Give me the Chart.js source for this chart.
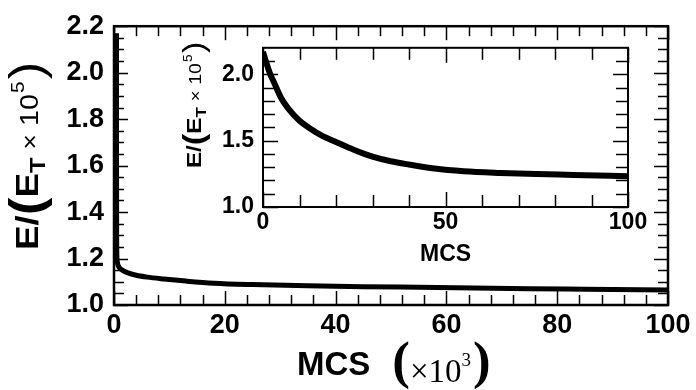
<!DOCTYPE html>
<html><head><meta charset="utf-8">
<script src="https://cdn.jsdelivr.net/npm/chart.js@4"></script>
<style>
html,body{margin:0;padding:0;background:#fff;}
#wrap{position:relative;width:696px;height:390px;overflow:hidden;}
#main{position:absolute;left:0;top:0;}
#inset{position:absolute;left:180px;top:25px;}
</style></head><body>
<div id="wrap"><canvas id="main" width="696" height="390"></canvas><canvas id="inset" width="480" height="245"></canvas></div>
<script>
// ---- data: main panel (MCS in units of 10^3) ----
const mainX = [0.45, 0.46, 0.48, 0.52, 0.6, 0.9, 1.5, 2.5, 4, 6, 9, 13, 18, 25, 35, 45, 55, 65, 75, 85, 100];
const mainY = [2.17, 1.6, 1.3, 1.21, 1.185, 1.163, 1.15, 1.138, 1.128, 1.12, 1.112, 1.103, 1.094, 1.088, 1.083, 1.079, 1.076, 1.073, 1.07, 1.068, 1.065];
// ---- data: inset (MCS) ----
const insetX = [0, 1, 2, 3, 5, 7, 10, 13, 16, 20, 25, 30, 35, 40, 47, 55, 65, 75, 85, 100];
const insetY = [2.17, 2.08, 2.0, 1.94, 1.82, 1.74, 1.65, 1.59, 1.54, 1.49, 1.43, 1.38, 1.345, 1.32, 1.29, 1.27, 1.257, 1.248, 1.242, 1.232];
// ---- tick values ----
const mainXTicks = [0, 20, 40, 60, 80, 100];
const mainXMinor = [4, 8, 12, 16, 24, 28, 32, 36, 44, 48, 52, 56, 64, 68, 72, 76, 84, 88, 92, 96];
const mainYTicks = [1.0, 1.2, 1.4, 1.6, 1.8, 2.0, 2.2];
const mainYMinor = [1.05, 1.1, 1.15, 1.25, 1.3, 1.35, 1.45, 1.5, 1.55, 1.65, 1.7, 1.75, 1.85, 1.9, 1.95, 2.05, 2.1, 2.15];
const insetXTicks = [0, 50, 100];
const insetXMinor = [10, 20, 30, 40, 60, 70, 80, 90];
const insetYTicks = [1.0, 1.5, 2.0];
const insetYMinor = [1.1, 1.2, 1.3, 1.4, 1.6, 1.7, 1.8, 1.9, 2.1];

const SANS = '"Liberation Sans", Arial, sans-serif';
const SERIF = '"Liberation Serif", "Times New Roman", serif';

const frameTicks = {
  id: 'frameTicks',
  afterDatasetsDraw(chart, args, o) {
    const {ctx, chartArea: a, scales: {x, y}} = chart;
    ctx.save();
    ctx.strokeStyle = '#000';
    ctx.lineWidth = o.tickWidth;
    const seg = (x1, y1, x2, y2) => { ctx.beginPath(); ctx.moveTo(x1, y1); ctx.lineTo(x2, y2); ctx.stroke(); };
    const xt = (vals, len) => vals.forEach(v => { const p = Math.round(x.getPixelForValue(v)) + 0.5; seg(p, a.bottom, p, a.bottom - len); seg(p, a.top, p, a.top + len); });
    const yt = (vals, len) => vals.forEach(v => { const p = Math.round(y.getPixelForValue(v)) + 0.5; seg(a.left, p, a.left + len, p); seg(a.right, p, a.right - len, p); });
    xt(o.xMajor, o.majorLen); xt(o.xMinor, o.minorLen);
    yt(o.yMajor, o.majorLen); yt(o.yMinor, o.minorLen);
    ctx.lineWidth = o.frameWidth;
    ctx.strokeRect(a.left, a.top, a.right - a.left, a.bottom - a.top);
    ctx.restore();
  }
};

function drawRich(ctx, segs, x, y, rot, sx) {
  ctx.save();
  ctx.translate(x, y);
  if (rot) ctx.rotate(-Math.PI / 2);
  ctx.scale(sx || 1, 1);
  ctx.textBaseline = 'alphabetic';
  ctx.textAlign = 'left';
  ctx.fillStyle = '#000';
  let cx = 0;
  for (const s of segs) {
    ctx.font = s.font;
    cx += (s.gap || 0);
    ctx.fillText(s.t, cx, s.dy || 0);
    cx += ctx.measureText(s.t).width;
  }
  ctx.restore();
}

const titles = {
  id: 'titles',
  afterDraw(chart, args, o) {
    (o.items || []).forEach(it => drawRich(chart.ctx, it.segs, it.x, it.y, it.rot, it.sx));
  }
};

function setTicks(vals) { return s => { s.ticks = vals.map(v => ({value: v})); }; }

// ---- main chart ----
new Chart(document.getElementById('main'), {
  type: 'line',
  data: { datasets: [{
    data: mainX.map((v, i) => ({x: v, y: mainY[i]})),
    borderColor: '#000', borderWidth: 5, pointRadius: 0, fill: false,
    cubicInterpolationMode: 'monotone', clip: 6
  }]},
  options: {
    responsive: false, animation: false, devicePixelRatio: 1,
    layout: { padding: { left: 0, top: 17, right: 28, bottom: 0 } },
    plugins: {
      legend: { display: false }, tooltip: { enabled: false },
      frameTicks: { xMajor: mainXTicks, xMinor: mainXMinor, yMajor: mainYTicks, yMinor: mainYMinor,
                    majorLen: 14, minorLen: 10, tickWidth: 1.5, frameWidth: 2.5 },
      titles: { items: [
        { x: 38, y: 250, rot: true, sx: 1.15, segs: [
          { t: 'E/', font: 'bold 32px ' + SANS },
          { t: '(', font: 'bold 46px ' + SANS, dy: 4 },
          { t: 'E', font: 'bold 32px ' + SANS },
          { t: 'T', font: 'bold 22px ' + SANS, dy: 7 },
          { t: '×', font: '23px ' + SANS, gap: 7 },
          { t: '10', font: '25px ' + SANS, gap: 7 },
          { t: '5', font: '18px ' + SANS, dy: -14, gap: 1 },
          { t: ')', font: '46px ' + SANS, dy: 4, gap: 2 }
        ]},
        { x: 297, y: 375, rot: false, segs: [
          { t: 'MCS', font: 'bold 33px ' + SANS },
          { t: '(', font: 'bold 53px ' + SERIF, gap: 22, dy: 3 },
          { t: '×10', font: '33px ' + SERIF, dy: 7 },
          { t: '3', font: '19px ' + SERIF, dy: -9 },
          { t: ')', font: 'bold 53px ' + SERIF, gap: 2, dy: 3 }
        ]}
      ]}
    },
    scales: {
      x: {
        type: 'linear', min: 0, max: 100,
        grid: { display: false, drawTicks: false }, border: { display: false },
        afterBuildTicks: setTicks(mainXTicks),
        afterFit: s => { s.height = 85; },
        ticks: { autoSkip: false, maxRotation: 0, color: '#000', padding: 4,
                 font: { family: SANS, size: 27, weight: 'bold' }, callback: v => String(v) }
      },
      y: {
        type: 'linear', min: 1.0, max: 2.2,
        grid: { display: false, drawTicks: false }, border: { display: false },
        afterBuildTicks: setTicks(mainYTicks),
        afterFit: s => { s.width = 114; },
        ticks: { autoSkip: false, color: '#000', padding: 10,
                 font: { family: SANS, size: 27, weight: 'bold' }, callback: v => v.toFixed(1) }
      }
    }
  },
  plugins: [frameTicks, titles]
});

// ---- inset chart ----
new Chart(document.getElementById('inset'), {
  type: 'line',
  data: { datasets: [{
    data: insetX.map((v, i) => ({x: v, y: insetY[i]})),
    borderColor: '#000', borderWidth: 6, pointRadius: 0, fill: false,
    cubicInterpolationMode: 'monotone'
  }]},
  options: {
    responsive: false, animation: false, devicePixelRatio: 1,
    layout: { padding: { left: 0, top: 13, right: 32, bottom: 0 } },
    plugins: {
      legend: { display: false }, tooltip: { enabled: false },
      frameTicks: { xMajor: insetXTicks, xMinor: insetXMinor, yMajor: insetYTicks, yMinor: insetYMinor,
                    majorLen: 15, minorLen: 12, tickWidth: 1.5, frameWidth: 2 },
      titles: { items: [
        { x: 21, y: 143, rot: true, sx: 1.15, segs: [
          { t: 'E/', font: 'bold 21px ' + SANS },
          { t: '(', font: 'bold 30px ' + SANS, dy: 3 },
          { t: 'E', font: 'bold 21px ' + SANS },
          { t: 'T', font: 'bold 15px ' + SANS, dy: 5 },
          { t: '×', font: '16px ' + SANS, gap: 5 },
          { t: '10', font: '17px ' + SANS, gap: 5 },
          { t: '5', font: '12px ' + SANS, dy: -9, gap: 1 },
          { t: ')', font: '30px ' + SANS, dy: 3, gap: 1 }
        ]},
        { x: 240, y: 236, rot: false, segs: [
          { t: 'MCS', font: 'bold 23px ' + SANS }
        ]}
      ]}
    },
    scales: {
      x: {
        type: 'linear', min: 0, max: 100,
        grid: { display: false, drawTicks: false }, border: { display: false },
        afterBuildTicks: setTicks(insetXTicks),
        afterFit: s => { s.height = 63; },
        ticks: { autoSkip: false, maxRotation: 0, color: '#000', padding: 2,
                 font: { family: SANS, size: 23, weight: 'bold' }, callback: v => String(v) }
      },
      y: {
        type: 'linear', min: 1.0, max: 2.2,
        grid: { display: false, drawTicks: false }, border: { display: false },
        afterBuildTicks: setTicks(insetYTicks),
        afterFit: s => { s.width = 83; },
        ticks: { autoSkip: false, color: '#000', padding: 9,
                 font: { family: SANS, size: 23, weight: 'bold' }, callback: v => v.toFixed(1) }
      }
    }
  },
  plugins: [frameTicks, titles]
});
</script>
</body></html>
